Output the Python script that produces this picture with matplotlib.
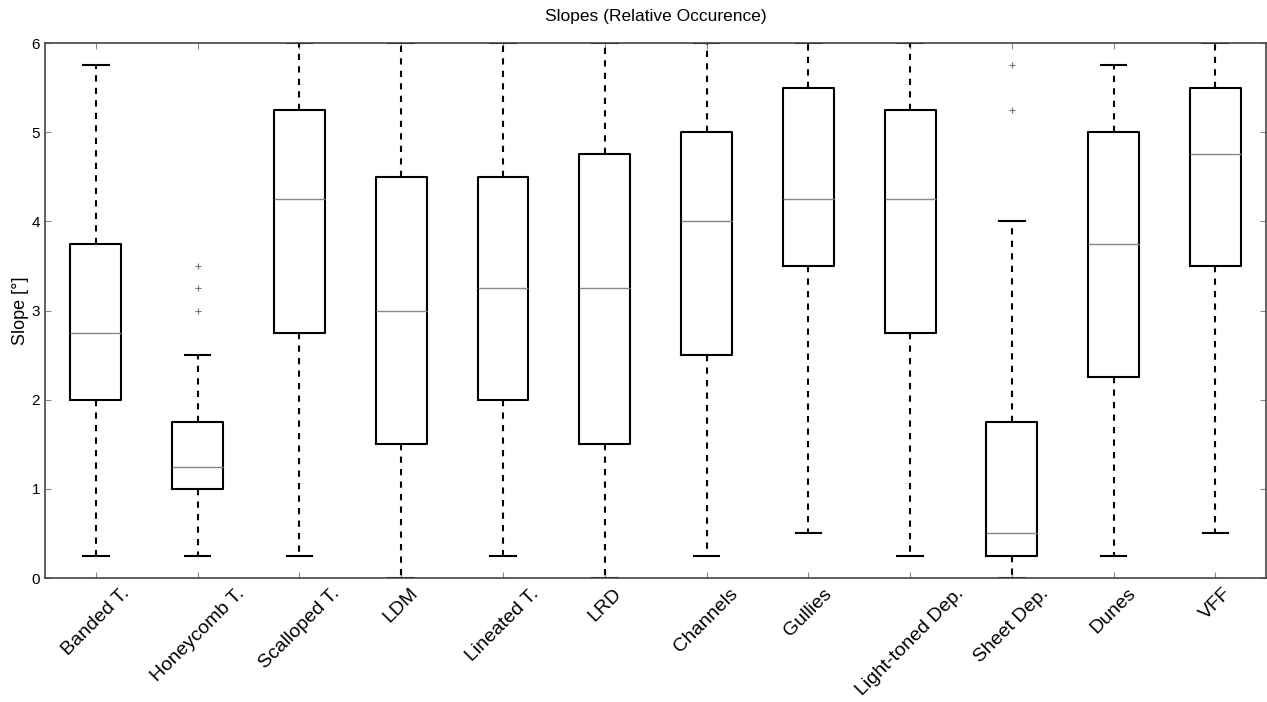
import matplotlib
matplotlib.use('Agg')
import matplotlib.pyplot as plt

plt.rcParams['font.family'] = ['Liberation Sans', 'DejaVu Sans']

# box statistics
categories = ['Banded T.', 'Honeycomb T.', 'Scalloped T.', 'LDM', 'Lineated T.', 'LRD',
              'Channels', 'Gullies', 'Light-toned Dep.', 'Sheet Dep.', 'Dunes', 'VFF']
whislo = [0.25, 0.25, 0.25, 0.0, 0.25, 0.0, 0.25, 0.5, 0.25, 0.0, 0.25, 0.5]
q1 = [2.0, 1.0, 2.75, 1.5, 2.0, 1.5, 2.5, 3.5, 2.75, 0.25, 2.25, 3.5]
med = [2.75, 1.25, 4.25, 3.0, 3.25, 3.25, 4.0, 4.25, 4.25, 0.5, 3.75, 4.75]
q3 = [3.75, 1.75, 5.25, 4.5, 4.5, 4.75, 5.0, 5.5, 5.25, 1.75, 5.0, 5.5]
whishi = [5.75, 2.5, 6.0, 6.0, 6.0, 6.0, 6.0, 6.0, 6.0, 4.0, 5.75, 6.0]
fliers = [[], [3.0, 3.25, 3.5], [], [], [], [], [], [], [], [5.25, 5.75], [], []]

stats = []
for i in range(len(categories)):
    stats.append({'label': categories[i], 'whislo': whislo[i], 'q1': q1[i], 'med': med[i],
                  'q3': q3[i], 'whishi': whishi[i], 'fliers': fliers[i]})

fig = plt.figure(figsize=(12.67, 7.02), dpi=100)
ax = fig.add_axes([0.0355, 0.1766, 0.9640, 0.7621])

ax.bxp(stats, positions=range(1, len(categories) + 1), widths=0.5,
       boxprops=dict(color='black', linewidth=1.5),
       medianprops=dict(color='#888888', linewidth=1.0),
       whiskerprops=dict(color='black', linewidth=1.5, linestyle=(0, (3, 3))),
       capprops=dict(color='black', linewidth=1.5),
       flierprops=dict(marker='+', markeredgecolor='#777777', markersize=5, markeredgewidth=0.8),
       capwidths=0.25)

ax.set_xlim(0.5, 12.5)
ax.set_ylim(0, 6)
ax.set_yticks([0, 1, 2, 3, 4, 5, 6])
ax.set_xticks(range(1, len(categories) + 1))
# labels centred under the ticks, top of the rotated box at the tick
ax.set_xticklabels(categories, rotation=45, ha='center', va='top', fontsize=14)
ax.tick_params(axis='both', direction='in', top=True, right=True, length=4,
               color='#888888', labelsize=11)
ax.tick_params(axis='x', pad=5, labelsize=14)
for s in ax.spines.values():
    s.set_color('#444444')
    s.set_linewidth(1.2)

ax.set_ylabel('Slope [°]', fontsize=13, labelpad=2)
ax.set_title('Slopes (Relative Occurence)', fontsize=12.5, pad=16)

fig.savefig('out.png', dpi=100)
